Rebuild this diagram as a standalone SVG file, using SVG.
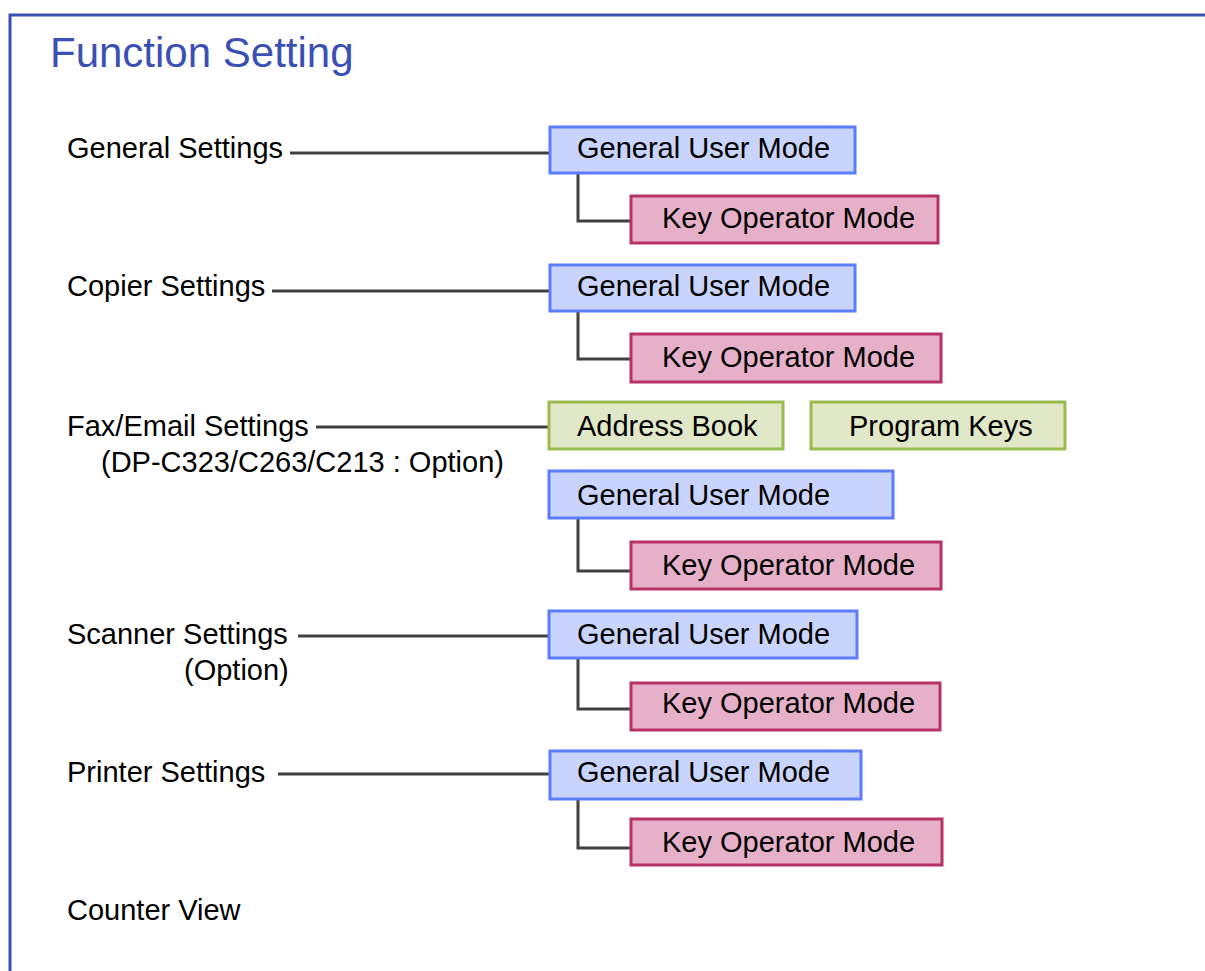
<svg xmlns="http://www.w3.org/2000/svg" width="1205" height="971" viewBox="0 0 1205 971">
<style>
text{font-family:"Liberation Sans",Arial,sans-serif;font-size:29px;fill:#000}
.title{font-size:42px;fill:#3a50b4}
.gum{fill:#c9d4fc;stroke:#5b7cfb;stroke-width:3}
.kom{fill:#e6b1c8;stroke:#b83265;stroke-width:3}
.grn{fill:#e1e8c8;stroke:#9bbb50;stroke-width:3}
.conn{fill:none;stroke:#404040;stroke-width:3}
</style>
<rect width="1205" height="971" fill="#fff"/>
<path d="M10 971 V15 H1205" fill="none" stroke="#3a50b4" stroke-width="3"/>
<text class="title" x="50" y="67">Function Setting</text>
<g id="labels">
<text x="67" y="158">General Settings</text>
<text x="67" y="296">Copier Settings</text>
<text x="67" y="436">Fax/Email Settings</text>
<text x="101" y="472">(DP-C323/C263/C213 : Option)</text>
<text x="67" y="644">Scanner Settings</text>
<text x="184" y="680">(Option)</text>
<text x="67" y="782">Printer Settings</text>
<text x="67" y="920">Counter View</text>
</g>
<g id="connectors">
<path class="conn" d="M290 153 H550"/>
<path class="conn" d="M578 173 V221 H631"/>
<path class="conn" d="M272 291 H550"/>
<path class="conn" d="M578 311 V359 H631"/>
<path class="conn" d="M316 427 H549"/>
<path class="conn" d="M578 518 V571 H631"/>
<path class="conn" d="M298 636 H549"/>
<path class="conn" d="M578 658 V709 H631"/>
<path class="conn" d="M278 774 H550"/>
<path class="conn" d="M578 800 V848 H631"/>
</g>
<g id="gen-gum"><rect class="gum" x="550" y="127" width="305" height="46"/><text x="577" y="158">General User Mode</text></g>
<g id="gen-kom"><rect class="kom" x="631" y="196" width="307" height="47"/><text x="662" y="228">Key Operator Mode</text></g>
<g id="cop-gum"><rect class="gum" x="550" y="265" width="305" height="46"/><text x="577" y="296">General User Mode</text></g>
<g id="cop-kom"><rect class="kom" x="631" y="334" width="310" height="48"/><text x="662" y="367">Key Operator Mode</text></g>
<g id="fax-addr"><rect class="grn" x="549" y="402" width="234" height="47"/><text x="577" y="436">Address Book</text></g>
<g id="fax-prog"><rect class="grn" x="811" y="402" width="254" height="47"/><text x="849" y="436">Program Keys</text></g>
<g id="fax-gum"><rect class="gum" x="549" y="471" width="344" height="47"/><text x="577" y="505">General User Mode</text></g>
<g id="fax-kom"><rect class="kom" x="631" y="542" width="310" height="47"/><text x="662" y="575">Key Operator Mode</text></g>
<g id="scn-gum"><rect class="gum" x="549" y="611" width="308" height="47"/><text x="577" y="644">General User Mode</text></g>
<g id="scn-kom"><rect class="kom" x="631" y="683" width="309" height="47"/><text x="662" y="713">Key Operator Mode</text></g>
<g id="prn-gum"><rect class="gum" x="550" y="751" width="311" height="48"/><text x="577" y="782">General User Mode</text></g>
<g id="prn-kom"><rect class="kom" x="631" y="819" width="311" height="46"/><text x="662" y="852">Key Operator Mode</text></g>
</svg>
